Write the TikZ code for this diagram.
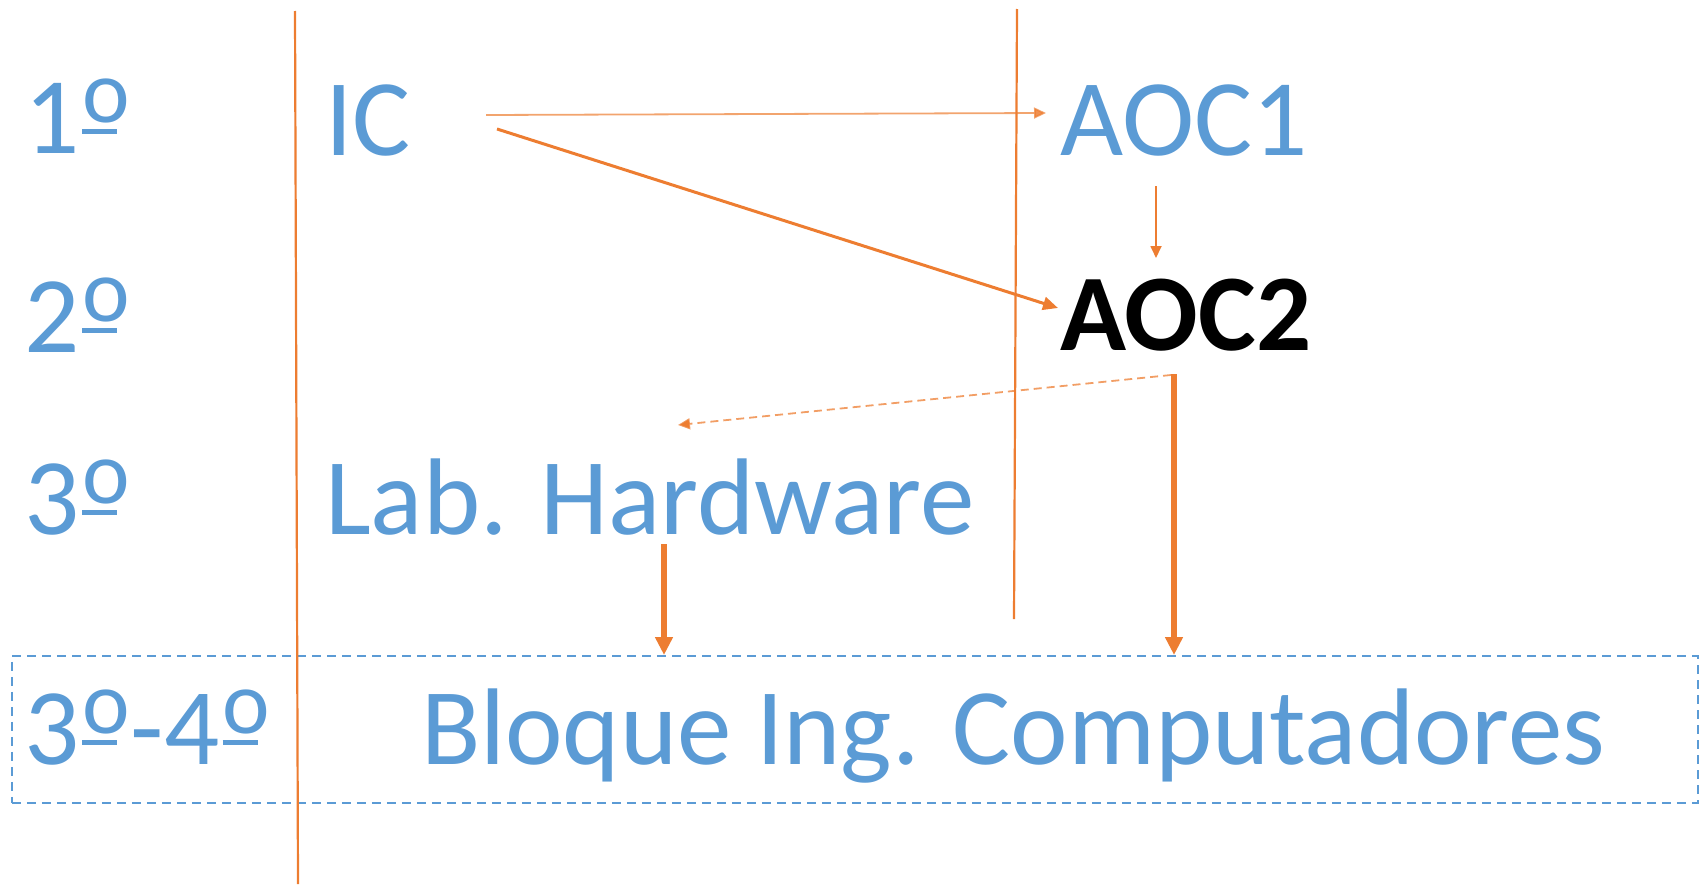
\documentclass[tikz,border=0pt]{standalone}
\usepackage{fontspec}
\setmainfont{Carlito}
\usepackage{tikz}
\usetikzlibrary{arrows.meta,calc}

\definecolor{azul}{HTML}{5B9BD5}
\definecolor{naranja}{HTML}{ED7D31}
% underlined ordinal sign
\newcommand{\ordo}{\kern3pt\rlap{\raisebox{19pt}{\rule{35pt}{5pt}}}\raisebox{31pt}{\fontsize{90}{90}\selectfont o}\kern1pt}

\begin{document}
\begin{tikzpicture}[
  x=1pt, y=-1pt,
  txt/.style={anchor=base west, inner sep=0pt, text=azul, font=\fontsize{109}{130}\selectfont},
  bold/.style={txt, text=black, font=\fontsize{109}{130}\selectfont\bfseries},
  sep/.style={draw=naranja, line width=2.2pt},
  box/.style={draw=azul, dashed, line width=1.6pt, dash pattern=on 9pt off 6pt, anchor=north west, inner sep=0pt, minimum width=1686pt, minimum height=147pt},
  thin/.style={draw=naranja, line width=1.8pt, -{Triangle[length=12pt,width=11pt]}},
  mid/.style={draw=naranja, line width=3pt, -{Triangle[length=15pt,width=13pt]}},
  thk/.style={draw=naranja, line width=6pt, -{Triangle[length=18pt,width=17pt]}}
]
\useasboundingbox (0,0) rectangle (1700,886);

% Course rows
\node[txt] (y1) at (24,153) {1\ordo};
\node[txt] (y2) at (24,352) {2\ordo};
\node[txt] (y3) at (24,534) {3\ordo};
\node[txt] (y34) at (24,764) {3\ordo-4\ordo};

% Subjects
\node[txt] (ic) at (325,155) {IC};
\node[txt] (aoc1) at (1060,155) {AOC1};
\node[bold] (aoc2) at (1060,350) {AOC2};
\node[txt] (lab) at (325,534) {Lab. Hardware};
\node[box] (blq) at (11,655) {};
\node[txt] (bloque) at (421,764) {Bloque Ing. Computadores};

% Separators
\draw[sep] (295,11) -- (298,884);
\draw[sep] (1017,9) -- (1014,619);

% Arrow ends
\coordinate (labout) at ($(lab.base west)+(339,10)$);
\coordinate (aocout) at ($(aoc2.base west)+(114,24)$);

% Connections
\draw[thin, draw opacity=0.7, fill opacity=0.85] ($(ic.base west)+(161,-40)$) -- ($(aoc1.base west)+(-14,-42)$);
\draw[mid] ($(ic.base west)+(172,-26)$) -- ($(aoc2.base west)+(-2,-42)$);
\draw[thin] ($(aoc1.base west)+(96,31)$) -- ($(aoc2.base west)+(96,-92)$);
\draw[thin, draw opacity=0.75, dashed, dash pattern=on 8pt off 5pt] ($(aoc2.base west)+(111,25)$) -- ($(lab.base west)+(353,-109)$);
\draw[thk] (labout) -- (labout |- blq.north);
\draw[thk] (aocout) -- (aocout |- blq.north);

\end{tikzpicture}
\end{document}
